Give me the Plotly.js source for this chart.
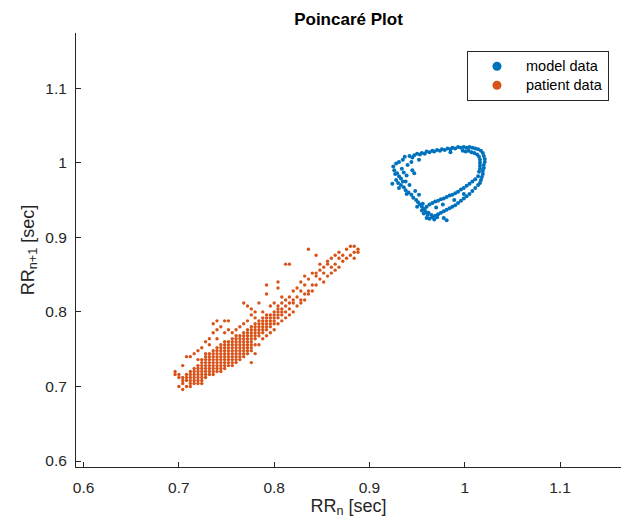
<!DOCTYPE html>
<html>
<head>
<meta charset="utf-8">
<script src="https://cdn.plot.ly/plotly-3.0.1.min.js"></script>
<style>html,body{margin:0;padding:0;background:#fff;}#chart{width:621px;height:526px;}</style>
</head>
<body>
<div id="chart"></div>
<script>
// ---- Data ----
const seriesNames = ["model data", "patient data"];
const seriesColors = ["#0072BD", "#D95319"];

// Model data: RR_n and RR_{n+1} (sec)
const modelRRn = [
  0.925,0.928,0.931,0.935,0.937,0.942,0.945,0.947,0.950,0.953,0.955,0.958,0.960,0.963,0.966,0.968,0.971,0.974,
  0.976,0.979,0.982,0.985,0.987,0.990,0.993,0.996,0.999,1.002,1.005,1.008,1.011,1.014,1.017,1.019,1.020,1.021,1.021,1.020,
  1.020,1.019,1.019,1.018,1.017,1.016,1.014,
  0.998,1.001,1.004,1.007,1.010,1.013,1.015,1.016,1.016,1.016,1.016,1.015,0.985,
  1.011,1.008,1.005,1.002,0.999,0.996,0.993,0.990,0.987,0.984,0.981,0.978,0.975,0.972,0.969,0.966,0.963,0.960,
  1.014,1.011,1.008,1.005,1.002,0.999,0.996,0.993,0.990,0.987,0.984,0.981,0.978,0.975,0.972,0.969,0.966,0.963,0.960,0.958,
  0.962,0.965,0.968,0.971,0.957,0.955,0.978,0.981,
  0.926,0.929,0.931,0.928,0.930,0.933,0.936,0.938,0.941,0.944,0.946,0.949,0.951,0.953,0.955,0.957,0.959,0.961,
  0.936,0.939,0.947,0.934,0.940,0.944,0.952,0.935,0.924,0.970,0.977,0.989,0.999,
  0.927,0.933,0.938,0.931,0.942,0.948,0.952,0.945,0.950,0.939,0.956
];
const modelRRn1 = [
  0.995,0.999,1.001,1.004,1.008,1.009,1.007,1.010,1.012,1.011,1.013,1.012,1.015,1.014,1.016,1.015,1.017,1.016,
  1.018,1.017,1.019,1.018,1.020,1.019,1.021,1.020,1.021,1.020,1.021,1.020,1.019,1.018,1.016,1.013,1.009,1.005,1.001,0.997,
  0.993,0.989,0.985,0.981,0.977,0.973,0.970,
  1.016,1.015,1.016,1.014,1.013,1.011,1.008,1.004,1.000,0.996,0.992,0.988,1.014,
  0.966,0.962,0.958,0.955,0.952,0.949,0.946,0.943,0.941,0.939,0.937,0.935,0.933,0.931,0.929,0.927,0.925,0.926,
  0.982,0.978,0.975,0.972,0.969,0.966,0.964,0.961,0.959,0.957,0.956,0.954,0.952,0.951,0.949,0.948,0.946,0.944,0.941,0.938,
  0.933,0.930,0.924,0.927,0.932,0.936,0.926,0.923,
  0.990,0.986,0.982,0.977,0.973,0.970,0.967,0.963,0.960,0.957,0.953,0.950,0.947,0.944,0.941,0.938,0.934,0.930,
  0.987,0.983,0.986,0.992,0.997,1.001,1.004,0.975,0.972,0.940,0.944,0.950,0.958,
  0.985,0.979,0.975,0.966,0.970,0.962,0.957,0.990,0.941,0.958,0.945
];

// Patient data: grid columns of RR_n (sec) and the RR_{n+1} values seen in each column
const patientRRnCols = [
  0.696,0.700,0.704,0.708,0.712,0.716,0.720,0.724,0.728,0.732,0.736,0.740,0.744,0.748,0.752,0.756,0.760,0.764,0.768,0.772,
  0.776,0.780,0.784,0.788,0.792,0.796,0.800,0.804,0.808,0.812,0.816,0.820,0.824,0.828,0.832,0.836,0.840,0.844,0.848,0.852,
  0.856,0.860,0.864,0.868,0.872,0.876,0.880,0.884,0.888
];
const patientRRn1Cols = [
  [0.720,0.716],
  [0.716,0.700,0.712],
  [0.712,0.708,0.728,0.696,0.704],
  [0.712,0.740,0.700,0.716,0.708],
  [0.704,0.708,0.712,0.716,0.720,0.740,0.700],
  [0.708,0.712,0.716,0.720,0.724,0.744,0.704],
  [0.704,0.708,0.712,0.716,0.720,0.724,0.728,0.736,0.748],
  [0.708,0.712,0.716,0.720,0.724,0.728,0.732,0.736,0.752,0.704],
  [0.712,0.716,0.720,0.724,0.728,0.732,0.736,0.740,0.760,0.744],
  [0.716,0.720,0.724,0.728,0.732,0.736,0.740,0.744,0.764,0.756],
  [0.716,0.720,0.724,0.728,0.732,0.736,0.740,0.744,0.748,0.772,0.784],
  [0.720,0.724,0.728,0.732,0.736,0.740,0.744,0.748,0.752,0.776,0.788,0.764],
  [0.720,0.724,0.728,0.732,0.736,0.740,0.744,0.748,0.752,0.756,0.780],
  [0.724,0.728,0.732,0.736,0.740,0.744,0.748,0.752,0.756,0.760,0.772,0.788],
  [0.728,0.732,0.736,0.740,0.744,0.748,0.752,0.756,0.760,0.776,0.788],
  [0.728,0.732,0.736,0.740,0.744,0.748,0.752,0.756,0.760,0.764,0.772],
  [0.732,0.736,0.740,0.744,0.748,0.752,0.756,0.760,0.764,0.768,0.776],
  [0.736,0.740,0.744,0.748,0.752,0.756,0.760,0.764,0.768,0.780],
  [0.740,0.744,0.748,0.752,0.756,0.760,0.764,0.768,0.772,0.784,0.812],
  [0.744,0.748,0.752,0.756,0.760,0.764,0.768,0.772,0.776,0.788,0.808],
  [0.748,0.752,0.756,0.760,0.764,0.768,0.772,0.776,0.780,0.796,0.804,0.732],
  [0.744,0.756,0.764,0.768,0.772,0.776,0.780,0.784,0.792,0.800],
  [0.756,0.768,0.772,0.776,0.780,0.784,0.788,0.812],
  [0.764,0.772,0.776,0.780,0.784,0.788,0.792,0.800],
  [0.768,0.776,0.780,0.784,0.788,0.792,0.796,0.824,0.836],
  [0.772,0.780,0.784,0.788,0.792,0.796,0.808],
  [0.776,0.784,0.788,0.792,0.796,0.800,0.812],
  [0.784,0.792,0.796,0.800,0.804,0.808,0.832,0.840],
  [0.788,0.796,0.800,0.804,0.812,0.820],
  [0.792,0.800,0.808,0.816,0.864],
  [0.796,0.804,0.812,0.820,0.864],
  [0.800,0.812,0.816,0.828],
  [0.808,0.820,0.832],
  [0.812,0.816,0.828,0.840],
  [0.816,0.824,0.836,0.848],
  [0.824,0.828,0.844,0.884],
  [0.828,0.836,0.852],
  [0.836,0.848,0.852,0.876],
  [0.844,0.856,0.864],
  [0.840,0.852,0.860],
  [0.848,0.864,0.868],
  [0.852,0.860,0.872],
  [0.864,0.856,0.876],
  [0.860,0.872,0.880],
  [0.868,0.876],
  [0.872,0.884],
  [0.876,0.888],
  [0.880,0.888,0.872],
  [0.884,0.880]
];

const tickVals = [0.6, 0.7, 0.8, 0.9, 1.0, 1.1];
const tickText = ["0.6", "0.7", "0.8", "0.9", "1", "1.1"];

// ---- Build patient point lists from the columns ----
const patientRRn = [], patientRRn1 = [];
patientRRnCols.forEach((xv, i) => {
  patientRRn1Cols[i].forEach(yv => { patientRRn.push(xv); patientRRn1.push(yv); });
});

const FONT = "Liberation Sans, Arial, Helvetica, sans-serif";
const AX = "#262626";
const legendName = s => '<span style="font-size:14.5px">' + s + '</span>';

const traces = [
  {x: modelRRn, y: modelRRn1, type: "scatter", mode: "markers", showlegend: false,
   marker: {color: seriesColors[0], size: 4}, hoverinfo: "skip"},
  {x: patientRRn, y: patientRRn1, type: "scatter", mode: "markers", showlegend: false,
   marker: {color: seriesColors[1], size: 3.4}, hoverinfo: "skip"},
  {x: [null], y: [null], type: "scatter", mode: "markers", name: legendName(seriesNames[0]),
   marker: {color: seriesColors[0], size: 9}},
  {x: [null], y: [null], type: "scatter", mode: "markers", name: legendName(seriesNames[1]),
   marker: {color: seriesColors[1], size: 9}}
];

const axisCommon = {
  showgrid: false, zeroline: false, showline: true, linecolor: AX, linewidth: 1,
  ticks: "inside", ticklen: 5, tickwidth: 1, tickcolor: AX, mirror: false,
  tickvals: tickVals, ticktext: tickText,
  tickfont: {family: FONT, size: 15.5, color: AX}
};

const layout = {
  width: 621, height: 526,
  margin: {l: 76, r: 0, t: 33, b: 59},
  paper_bgcolor: "#ffffff", plot_bgcolor: "#ffffff",
  font: {family: FONT, color: AX},
  title: {text: "<b>Poincaré Plot</b>", font: {family: FONT, size: 17, color: "#000000"},
          x: 0.5, xref: "paper", y: 1 - 19/526, yref: "container", yanchor: "middle"},
  xaxis: Object.assign({}, axisCommon, {
    range: [0.592, 1.164], ticklabelstandoff: 6,
    title: {text: "RR<sub>n</sub> [sec]", font: {family: FONT, size: 18, color: AX}, standoff: 4}
  }),
  yaxis: Object.assign({}, axisCommon, {
    range: [0.592, 1.174], ticklabelstandoff: 5,
    title: {text: "RR<sub>n+1</sub> [sec]", font: {family: FONT, size: 18, color: AX}, standoff: 6}
  }),
  legend: {x: 0.7174, y: 0.9592, xanchor: "left", yanchor: "top",
           bordercolor: AX, borderwidth: 1, bgcolor: "#ffffff",
           font: {family: FONT, size: 12, color: "#000000"}, itemwidth: 48},
  showlegend: true
};

Plotly.newPlot("chart", traces, layout, {displayModeBar: false, staticPlot: true});
</script>
</body>
</html>
